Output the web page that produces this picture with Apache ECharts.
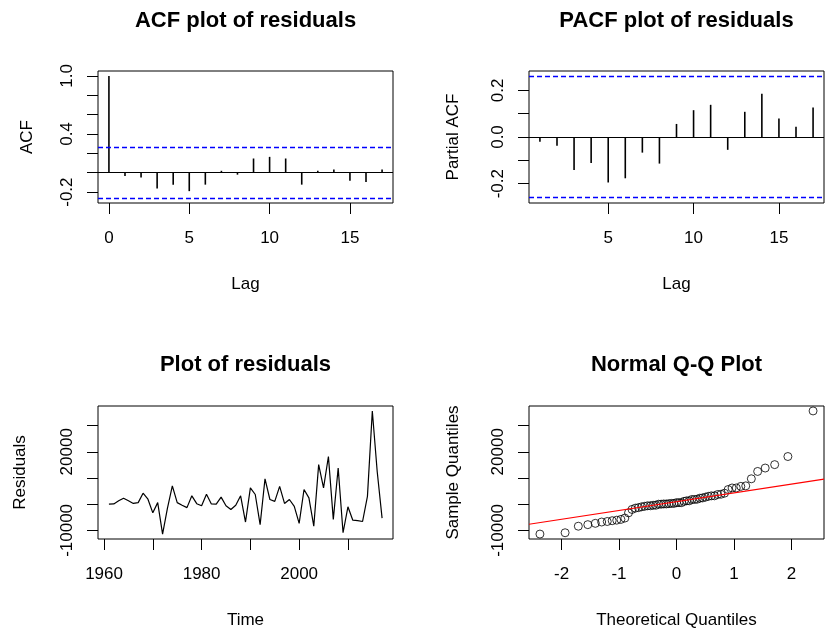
<!DOCTYPE html>
<html><head><meta charset="utf-8">
<script src="https://cdn.jsdelivr.net/npm/echarts@6/dist/echarts.min.js"></script>
<style>html,body{margin:0;padding:0;background:#fff}#c{width:825px;height:631px}</style>
</head><body><div id="c"></div>
<script>
// ---- data ----
const acfLags = [0,1,2,3,4,5,6,7,8,9,10,11,12,13,14,15,16,17];
const acfValues = [1.0,-0.034,-0.05,-0.164,-0.123,-0.19,-0.123,0.02,-0.02,0.147,0.164,0.147,-0.123,0.02,0.034,-0.082,-0.096,0.034];
const pacfLags = [1,2,3,4,5,6,7,8,9,10,11,12,13,14,15,16,17];
const pacfValues = [-0.02,-0.038,-0.142,-0.112,-0.195,-0.177,-0.067,-0.114,0.056,0.115,0.138,-0.055,0.108,0.185,0.079,0.044,0.126];
const ciBound = 0.262;
const years = [1961,1962,1963,1964,1965,1966,1967,1968,1969,1970,1971,1972,1973,1974,1975,1976,1977,1978,1979,1980,
  1981,1982,1983,1984,1985,1986,1987,1988,1989,1990,1991,1992,1993,1994,1995,1996,1997,1998,1999,2000,
  2001,2002,2003,2004,2005,2006,2007,2008,2009,2010,2011,2012,2013,2014,2015,2016,2017];
const residuals = [0,100,1300,2300,1300,300,600,4200,1900,-3300,600,-11400,-1500,7000,600,-400,-1300,3200,200,-600,
  3800,100,0,2700,-600,-2000,-400,3200,-6800,6200,3700,-7800,9700,1800,1100,6800,300,1800,-800,-7300,
  5600,2400,-8400,15100,6200,18200,-5800,13800,-10900,-1000,-6100,-6300,-6600,3000,35600,12500,-5300];
const theoQuantiles = [-2.376,-1.938,-1.708,-1.543,-1.412,-1.302,-1.205,-1.119,-1.040,-0.967,-0.899,-0.835,-0.774,-0.716,
  -0.661,-0.607,-0.555,-0.504,-0.455,-0.407,-0.359,-0.313,-0.267,-0.222,-0.177,-0.132,-0.088,-0.044,0,
  0.044,0.088,0.132,0.177,0.222,0.267,0.313,0.359,0.407,0.455,0.504,0.555,0.607,0.661,0.716,0.774,0.835,
  0.899,0.967,1.040,1.119,1.205,1.302,1.412,1.543,1.708,1.938,2.376];
const qqIntercept = 975;
const qqSlope = 3362;
const titles = ['ACF plot of residuals','PACF plot of residuals','Plot of residuals','Normal Q-Q Plot'];
const acfTicks = [-0.2,0,0.2,0.4,0.6,0.8,1.0], acfTickLabels = [-0.2,0.4,1.0];
const pacfTicks = [-0.2,-0.1,0,0.1,0.2], pacfTickLabels = [-0.2,0,0.2];
const lagTicksAcf = [0,5,10,15], lagTicksPacf = [5,10,15];
const yearTicks = [1960,1970,1980,1990,2000,2010], yearTickLabels = [1960,1980,2000];
const resTicks = [-10000,0,10000,20000,30000], resTickLabels = [-10000,20000];
const qTicks = [-2,-1,0,1,2];

// ---- chart ----
const FONT = "'Liberation Sans', Arial, sans-serif";
const FS = 17;
const sortedRes = residuals.slice().sort((a,b)=>a-b);
function ext(lo, hi){ const d=(hi-lo)*0.04; return [lo-d, hi+d]; }
const acfY = ext(Math.min(-ciBound, ...acfValues), Math.max(ciBound, ...acfValues));
const pacfY = ext(Math.min(-ciBound, ...pacfValues), Math.max(ciBound, ...pacfValues));
const acfX = ext(0, 17), pacfX = ext(1, 17);
const resX = ext(years[0], years[years.length-1]);
const resY = ext(Math.min(...residuals), Math.max(...residuals));
const qX = ext(theoQuantiles[0], theoQuantiles[theoQuantiles.length-1]);

const grids = [
  {left:98, top:71, width:295, height:132},
  {left:529, top:71, width:295, height:132},
  {left:98, top:406, width:295, height:133},
  {left:529, top:406, width:295, height:133}
];
function xAx(i, mn, mx, ticks, labels, name, fmt){
  return {gridIndex:i, type:'value', min:mn, max:mx, name:name, nameLocation:'middle', nameGap:73,
    nameTextStyle:{fontFamily:FONT, fontSize:FS, color:'#000'},
    axisLine:{show:false, onZero:false}, splitLine:{show:false},
    axisTick:{show:true, customValues:ticks, length:11, lineStyle:{color:'#000', width:1}},
    axisLabel:{customValues:labels, margin:27, fontFamily:FONT, fontSize:FS, color:'#000', formatter:fmt||(v=>String(v))}};
}
function yAx(i, mn, mx, ticks, labels, name, fmt, gap){
  return {gridIndex:i, type:'value', min:mn, max:mx, name:name, nameLocation:'middle', nameGap:gap,
    nameTextStyle:{fontFamily:FONT, fontSize:FS, color:'#000'},
    axisLine:{show:false, onZero:false}, splitLine:{show:false},
    axisTick:{show:true, customValues:ticks, length:11, lineStyle:{color:'#000', width:1}},
    axisLabel:{customValues:labels, rotate:90, margin:22, fontFamily:FONT, fontSize:FS, color:'#000', formatter:fmt||(v=>String(v))}};
}
const f1 = v => v.toFixed(1);
const ciLine = {silent:true, symbol:'none', label:{show:false},
  lineStyle:{color:'#0000ff', type:[5,3], width:1.3},
  data:[{yAxis:ciBound},{yAxis:-ciBound}]};
const zeroLine = {silent:true, symbol:'none', label:{show:false},
  lineStyle:{color:'#000', type:'solid', width:1}, data:[{yAxis:0}]};

const chart = echarts.init(document.getElementById('c'), null, {renderer:'canvas'});
chart.setOption({
  animation:false,
  backgroundColor:'#fff',
  title: titles.map((t,i)=>({text:t, left:grids[i].left+grids[i].width/2, top:(i<2?10:354), textAlign:'center', padding:0,
    textStyle:{fontFamily:FONT, fontSize:22, fontWeight:'bold', color:'#000'}})),
  grid: grids.map(g=>Object.assign({show:true, borderColor:'#000', borderWidth:1, backgroundColor:'transparent'}, g)),
  xAxis:[
    xAx(0, acfX[0], acfX[1], lagTicksAcf, lagTicksAcf, 'Lag'),
    xAx(1, pacfX[0], pacfX[1], lagTicksPacf, lagTicksPacf, 'Lag'),
    xAx(2, resX[0], resX[1], yearTicks, yearTickLabels, 'Time'),
    xAx(3, qX[0], qX[1], qTicks, qTicks, 'Theoretical Quantiles')
  ],
  yAxis:[
    yAx(0, acfY[0], acfY[1], acfTicks, acfTickLabels, 'ACF', f1, 62),
    yAx(1, pacfY[0], pacfY[1], pacfTicks, pacfTickLabels, 'Partial ACF', f1, 67),
    yAx(2, resY[0], resY[1], resTicks, resTickLabels, 'Residuals', null, 69),
    yAx(3, resY[0], resY[1], resTicks, resTickLabels, 'Sample Quantiles', null, 67)
  ],
  series:[
    {type:'bar', xAxisIndex:0, yAxisIndex:0, barWidth:1.6, itemStyle:{color:'#000'},
     data:acfLags.map((l,i)=>[l, acfValues[i]]), markLine:zeroLine},
    {type:'line', xAxisIndex:0, yAxisIndex:0, data:[], markLine:ciLine},
    {type:'bar', xAxisIndex:1, yAxisIndex:1, barWidth:1.6, itemStyle:{color:'#000'},
     data:pacfLags.map((l,i)=>[l, pacfValues[i]]), markLine:zeroLine},
    {type:'line', xAxisIndex:1, yAxisIndex:1, data:[], markLine:ciLine},
    {type:'line', xAxisIndex:2, yAxisIndex:2, symbol:'none', lineStyle:{color:'#000', width:1.2},
     data:years.map((y,i)=>[y, residuals[i]])},
    {type:'scatter', xAxisIndex:3, yAxisIndex:3, symbol:'circle', symbolSize:8,
     itemStyle:{color:'transparent', borderColor:'#000', borderWidth:1},
     data:theoQuantiles.map((q,i)=>[q, sortedRes[i]])},
    {type:'line', xAxisIndex:3, yAxisIndex:3, symbol:'none', lineStyle:{color:'#ff0000', width:1.2},
     data:[[qX[0], qqIntercept+qqSlope*qX[0]],[qX[1], qqIntercept+qqSlope*qX[1]]]}
  ]
});
</script></body></html>
